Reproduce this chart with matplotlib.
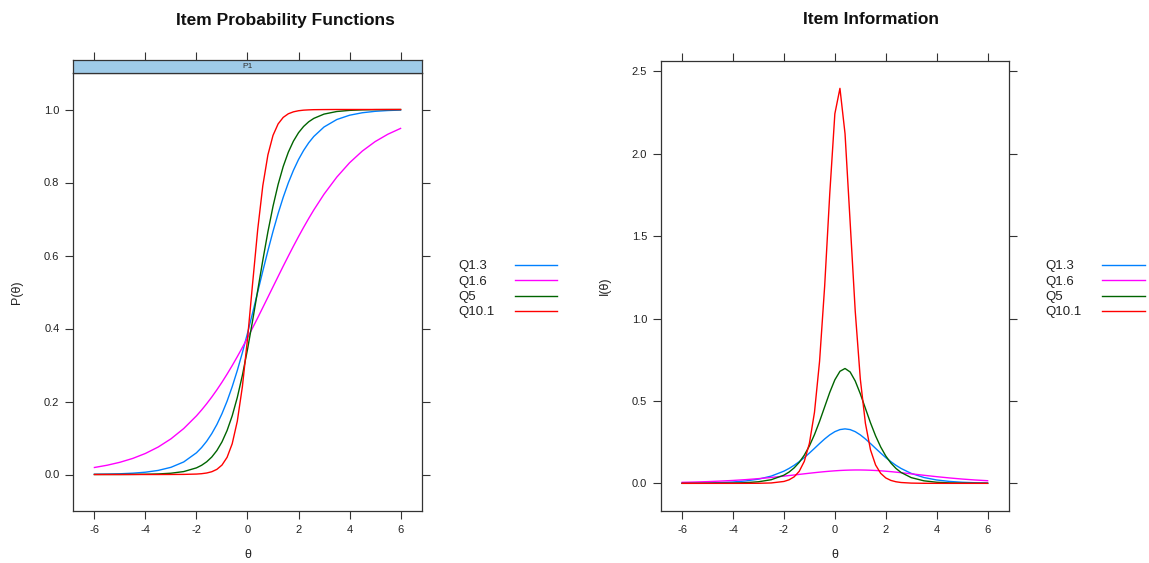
import matplotlib
matplotlib.use('Agg')
import matplotlib.pyplot as plt
from matplotlib.lines import Line2D

plt.rcParams['font.family'] = ['Liberation Sans', 'DejaVu Sans']
plt.rcParams['axes.unicode_minus'] = False

# theta grid (read positions along the curves)
theta = [-6, -5.5, -5, -4.5, -4, -3.5, -3, -2.5, -2,
         -1.8, -1.6, -1.4, -1.2, -1.0, -0.8, -0.6, -0.4, -0.2, 0,
         0.2, 0.4, 0.6, 0.8, 1.0, 1.2, 1.4, 1.6, 1.8, 2.0, 2.2, 2.4, 2.6,
         3, 3.5, 4, 4.5, 5, 5.5, 6]

items = ['Q1.3', 'Q1.6', 'Q5', 'Q10.1']
colors = ['#0080ff', '#ff00ff', '#006400', '#ff0000']

# item probability functions P(theta)
p_q13 = [0.0006, 0.0011, 0.0020, 0.0036, 0.0063, 0.0112, 0.0197, 0.0344, 0.0595,
         0.0738, 0.0911, 0.1121, 0.1370, 0.1667, 0.2010, 0.2405, 0.2850, 0.3340, 0.3870,
         0.4427, 0.5000, 0.5573, 0.6130, 0.6660, 0.7150, 0.7595, 0.7990, 0.8333, 0.8630,
         0.8879, 0.9089, 0.9262, 0.9521, 0.9725, 0.9843, 0.9911, 0.9950, 0.9972, 0.9984]
p_q16 = [0.0192, 0.0254, 0.0335, 0.0440, 0.0577, 0.0753, 0.0977, 0.1259, 0.1607,
         0.1767, 0.1939, 0.2123, 0.2320, 0.2529, 0.2751, 0.2984, 0.3228, 0.3482, 0.3745,
         0.4016, 0.4292, 0.4574, 0.4858, 0.5142, 0.5426, 0.5708, 0.5984, 0.6255, 0.6518,
         0.6772, 0.7016, 0.7249, 0.7680, 0.8148, 0.8540, 0.8861, 0.9119, 0.9322, 0.9482]
p_q5 = [0.0000, 0.0001, 0.0001, 0.0003, 0.0007, 0.0015, 0.0035, 0.0080, 0.0182,
        0.0252, 0.0348, 0.0479, 0.0657, 0.0894, 0.1206, 0.1607, 0.2110, 0.2719, 0.3428,
        0.4214, 0.5042, 0.5869, 0.6649, 0.7348, 0.7946, 0.8439, 0.8830, 0.9133, 0.9364,
        0.9536, 0.9664, 0.9757, 0.9874, 0.9945, 0.9976, 0.9990, 0.9996, 0.9998, 0.9999]
p_q101 = [0.0000, 0.0000, 0.0000, 0.0000, 0.0000, 0.0000, 0.0001, 0.0003, 0.0012,
          0.0022, 0.0041, 0.0076, 0.0141, 0.0259, 0.0471, 0.0842, 0.1459, 0.2410, 0.3712,
          0.5232, 0.6710, 0.7913, 0.8757, 0.9291, 0.9605, 0.9784, 0.9883, 0.9936, 0.9966,
          0.9982, 0.9990, 0.9995, 0.9998, 1.0000, 1.0000, 1.0000, 1.0000, 1.0000, 1.0000]

# item information I(theta)
i_q13 = [0.0008, 0.0015, 0.0026, 0.0047, 0.0083, 0.0146, 0.0255, 0.0439, 0.0740,
         0.0904, 0.1095, 0.1316, 0.1563, 0.1837, 0.2124, 0.2416, 0.2695, 0.2942, 0.3137,
         0.3263, 0.3306, 0.3263, 0.3137, 0.2942, 0.2695, 0.2416, 0.2124, 0.1837, 0.1563,
         0.1316, 0.1095, 0.0904, 0.0603, 0.0354, 0.0204, 0.0117, 0.0066, 0.0037, 0.0021]
i_q16 = [0.0061, 0.0080, 0.0105, 0.0137, 0.0177, 0.0226, 0.0286, 0.0357, 0.0438,
         0.0473, 0.0508, 0.0543, 0.0579, 0.0614, 0.0648, 0.0680, 0.0710, 0.0737, 0.0761,
         0.0781, 0.0796, 0.0806, 0.0812, 0.0812, 0.0806, 0.0796, 0.0781, 0.0761, 0.0737,
         0.0710, 0.0680, 0.0648, 0.0579, 0.0490, 0.0405, 0.0328, 0.0261, 0.0205, 0.0160]
i_q5 = [0.0001, 0.0002, 0.0003, 0.0008, 0.0018, 0.0042, 0.0096, 0.0220, 0.0497,
        0.0684, 0.0937, 0.1272, 0.1712, 0.2270, 0.2959, 0.3762, 0.4643, 0.5522, 0.6283,
        0.6800, 0.6972, 0.6761, 0.6214, 0.5436, 0.4552, 0.3674, 0.2881, 0.2209, 0.1661,
        0.1235, 0.0906, 0.0661, 0.0348, 0.0153, 0.0067, 0.0029, 0.0013, 0.0006, 0.0002]
i_q101 = [0.0000, 0.0000, 0.0000, 0.0000, 0.0000, 0.0001, 0.0005, 0.0024, 0.0115,
          0.0213, 0.0394, 0.0728, 0.1336, 0.2425, 0.4313, 0.7410, 1.1975, 1.7580, 2.2430,
          2.3975, 2.1220, 1.5870, 1.0460, 0.6330, 0.3646, 0.2031, 0.1115, 0.0608, 0.0329,
          0.0178, 0.0096, 0.0051, 0.0015, 0.0003, 0.0001, 0.0000, 0.0000, 0.0000, 0.0000]

prob = [p_q13, p_q16, p_q5, p_q101]
info = [i_q13, i_q16, i_q5, i_q101]

W, H = 1149, 563
fig = plt.figure(figsize=(W / 100, H / 100), dpi=100)
fig.patch.set_facecolor('white')


def fx(px):
    return px / W


def fy(py):
    return 1 - py / H


AXC = '#333333'
TXT = '#222222'
TICK = dict(direction='out', length=5.8, width=0.8, color=AXC,
            labelsize=8, pad=4, labelcolor=TXT)
xticks = [-6, -4, -2, 0, 2, 4, 6]
xpad = 0.07 * 12
xlim = (-6 - xpad, 6 + xpad)


def style_panel(ax, top_ticks=True):
    for s in ax.spines.values():
        s.set_color(AXC)
        s.set_linewidth(0.9)
    ax.set_xlim(*xlim)
    ax.set_xticks(xticks)
    ax.tick_params(axis='both', which='both', **TICK)
    ax.tick_params(top=top_ticks, right=True, labeltop=False, labelright=False)


def add_key(x_text, x_line0, x_line1):
    # lattice-style key: label on the left, line sample on the right
    for k, (name, c) in enumerate(zip(items, colors)):
        y = fy(265 + 15.3 * k)
        fig.text(fx(x_text), fy(266.5 + 15.3 * k), name, ha='left', va='center',
                 fontsize=9.5, color=TXT)
        fig.add_artist(Line2D([fx(x_line0), fx(x_line1)], [y, y],
                              transform=fig.transFigure, color=c, lw=1.0))


# ---- left panel: item probability functions ----
ax1 = fig.add_axes([fx(73), fy(511), fx(422 - 73), (511 - 73) / H])
for vals, c in zip(prob, colors):
    ax1.plot(theta, vals, color=c, lw=1.0)
style_panel(ax1, top_ticks=False)
ax1.set_ylim(-0.1, 1.1)
ax1.set_yticks([0.0, 0.2, 0.4, 0.6, 0.8, 1.0])
ax1.set_yticklabels(['0.0', '0.2', '0.4', '0.6', '0.8', '1.0'])
ax1.set_ylabel('P(θ)', fontsize=9, color=TXT)
ax1.yaxis.set_label_coords((23 - 73) / 349, 0.5)
ax1.set_xlabel('θ', fontsize=9, color=TXT)
ax1.xaxis.set_label_coords(0.5, (511 - 549) / 438)
add_key(458, 515, 557)

# strip on top of the left panel
ax1s = fig.add_axes([fx(73), fy(73), fx(422 - 73), 13 / H])
ax1s.set_facecolor('#9fcbe8')
ax1s.set_ylim(0, 1)
style_panel(ax1s)
ax1s.tick_params(bottom=False, labelbottom=False, left=False, right=False,
                 labelleft=False, top=True)
ax1s.set_yticks([])
ax1s.text(0.5, 0.5, 'P1', transform=ax1s.transAxes, ha='center', va='center',
          fontsize=6, color='#333333')

# ---- right panel: item information ----
ax2 = fig.add_axes([fx(660.7), fy(511), fx(1009 - 660.7), (511 - 60.7) / H])
for vals, c in zip(info, colors):
    ax2.plot(theta, vals, color=c, lw=1.0)
style_panel(ax2)
lo = min(min(v) for v in info)
hi = max(max(v) for v in info)
ax2.set_ylim(lo - 0.07 * (hi - lo), hi + 0.07 * (hi - lo))
ax2.set_yticks([0.0, 0.5, 1.0, 1.5, 2.0, 2.5])
ax2.set_yticklabels(['0.0', '0.5', '1.0', '1.5', '2.0', '2.5'])
ax2.set_ylabel('I(θ)', fontsize=9, color=TXT)
ax2.yaxis.set_label_coords((611 - 660.7) / 348.3, 0.5)
ax2.set_xlabel('θ', fontsize=9, color=TXT)
ax2.xaxis.set_label_coords(0.5, (511 - 549) / 450.3)
add_key(1045, 1102, 1145)

# titles
fig.text(fx(285), fy(20), 'Item Probability Functions', ha='center', va='center',
         fontsize=12.5, fontweight='bold', color='#111111')
fig.text(fx(871), fy(20), 'Item Information', ha='center', va='center',
         fontsize=12.5, fontweight='bold', color='#111111')

fig.savefig('out.png', dpi=100, facecolor='white')
